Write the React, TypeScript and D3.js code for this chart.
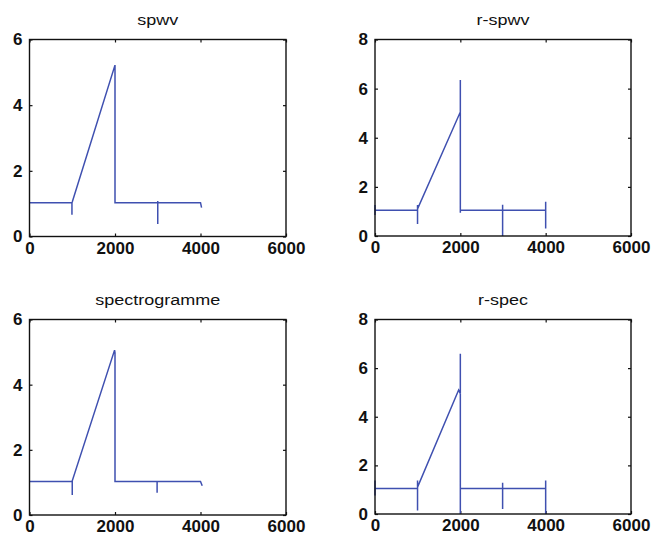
import { useEffect, useRef } from "react";
import * as d3 from "d3";

const titles = ["spwv", "r-spwv", "spectrogramme", "r-spec"];
const xTicks = [0, 2000, 4000, 6000];
const yTicksLow = [0, 2, 4, 6];
const yTicksHigh = [0, 2, 4, 6, 8];

// ridge (time, frequency) points
const spwvPts = [
  [0, 1.03], [993, 1.03], [993, 0.66], [993, 1.03], [1000, 1.05], [2000, 5.22],
  [2000, 1.03], [3000, 1.03], [3000, 0.38], [3000, 1.08], [3000, 1.03],
  [4000, 1.03], [4025, 0.88],
];
const rSpwvPts = [
  [0, 1.26], [0, 0.85], [0, 1.05], [997, 1.05], [997, 1.26], [997, 0.49],
  [997, 1.1], [2000, 5.05], [2000, 6.35], [2000, 0.95], [2000, 1.05],
  [2991, 1.05], [2991, 1.27], [2991, 0], [2991, 1.05], [4000, 1.05],
  [4000, 1.39], [4000, 0.31],
];
const spectroPts = [
  [0, 1.03], [1000, 1.03], [1000, 0.61], [1000, 1.05], [1990, 5.06],
  [2000, 4.98], [2000, 1.03], [2985, 1.03], [2985, 0.68], [2985, 1.03],
  [4000, 1.03], [4040, 0.9],
];
const rSpecPts = [
  [0, 1.38], [0, 0.76], [0, 1.05], [997, 1.05], [997, 1.38], [997, 0.14],
  [997, 1.1], [1960, 5.1], [2000, 4.95], [2000, 6.59], [2000, 0], [2000, 1.05],
  [2991, 1.05], [2991, 1.29], [2991, 0.21], [2991, 1.05], [4000, 1.05],
  [4000, 1.38], [4000, 0],
];

const series = [spwvPts, rSpwvPts, spectroPts, rSpecPts];
const yMaxes = [6, 8, 6, 8];
const yTickSets = [yTicksLow, yTicksHigh, yTicksLow, yTicksHigh];

const App = () => {
  const svgRef = useRef<SVGSVGElement>(null);

  useEffect(() => {
    const svg = d3.select(svgRef.current);
    svg.selectAll("*").remove();

    const boxes = [
      { left: 29.5, right: 286, top: 39.5, bottom: 236.5 },
      { left: 375, right: 631, top: 39.5, bottom: 236 },
      { left: 29.5, right: 286, top: 319.5, bottom: 515 },
      { left: 375, right: 631, top: 319.5, bottom: 514 },
    ];

    const lineColor = "#3f50b0";
    const fontFamily = "'Liberation Sans', Arial, sans-serif";
    const fmt = d3.format("d");

    boxes.forEach((b, i) => {
      const x = d3.scaleLinear().domain([0, 6000]).range([b.left, b.right]);
      const y = d3.scaleLinear().domain([0, yMaxes[i]]).range([b.bottom, b.top]);
      const g = svg.append("g");

      // inward ticks on all four sides
      const tickStyle = (sel: any) => {
        sel.select(".domain").remove();
        sel.selectAll(".tick line").attr("stroke", "#111").attr("stroke-width", 1.2);
      };

      g.append("g")
        .attr("transform", `translate(0,${b.bottom})`)
        .call(d3.axisBottom(x).tickValues(xTicks).tickFormat(fmt).tickSizeInner(-3).tickSizeOuter(0).tickPadding(5))
        .call(tickStyle)
        .selectAll("text")
        .attr("fill", "#111")
        .style("font-family", fontFamily)
        .style("font-size", "17px")
        .style("font-weight", "bold");

      g.append("g")
        .attr("transform", `translate(0,${b.top})`)
        .call(d3.axisTop(x).tickValues(xTicks).tickSizeInner(-3).tickSizeOuter(0).tickFormat(() => ""))
        .call(tickStyle);

      g.append("g")
        .attr("transform", `translate(${b.left},0)`)
        .call(d3.axisLeft(y).tickValues(yTickSets[i]).tickFormat(fmt).tickSizeInner(-3).tickSizeOuter(0).tickPadding(7))
        .call(tickStyle)
        .selectAll("text")
        .attr("fill", "#111")
        .style("font-family", fontFamily)
        .style("font-size", "17px")
        .style("font-weight", "bold");

      g.append("g")
        .attr("transform", `translate(${b.right},0)`)
        .call(d3.axisRight(y).tickValues(yTickSets[i]).tickSizeInner(-3).tickSizeOuter(0).tickFormat(() => ""))
        .call(tickStyle);

      const line = d3
        .line<number[]>()
        .x((d) => x(d[0]))
        .y((d) => y(d[1]));

      g.append("path")
        .datum(series[i])
        .attr("d", line)
        .attr("fill", "none")
        .attr("stroke", lineColor)
        .attr("stroke-width", 1.5);

      g.append("rect")
        .attr("x", b.left)
        .attr("y", b.top)
        .attr("width", b.right - b.left)
        .attr("height", b.bottom - b.top)
        .attr("fill", "none")
        .attr("stroke", "#111")
        .attr("stroke-width", 1.4);

      const cx = (b.left + b.right) / 2;
      g.append("text")
        .attr("transform", `translate(${cx},${b.top - 15}) scale(1.2,1)`)
        .attr("text-anchor", "middle")
        .style("font-family", fontFamily)
        .style("font-size", "15px")
        .attr("fill", "#111")
        .text(titles[i]);
    });
  }, []);

  return (
    <svg
      ref={svgRef}
      width={654}
      height={542}
      style={{ position: "absolute", left: 0, top: 0, background: "#fff" }}
    ></svg>
  );
};

export default App;
